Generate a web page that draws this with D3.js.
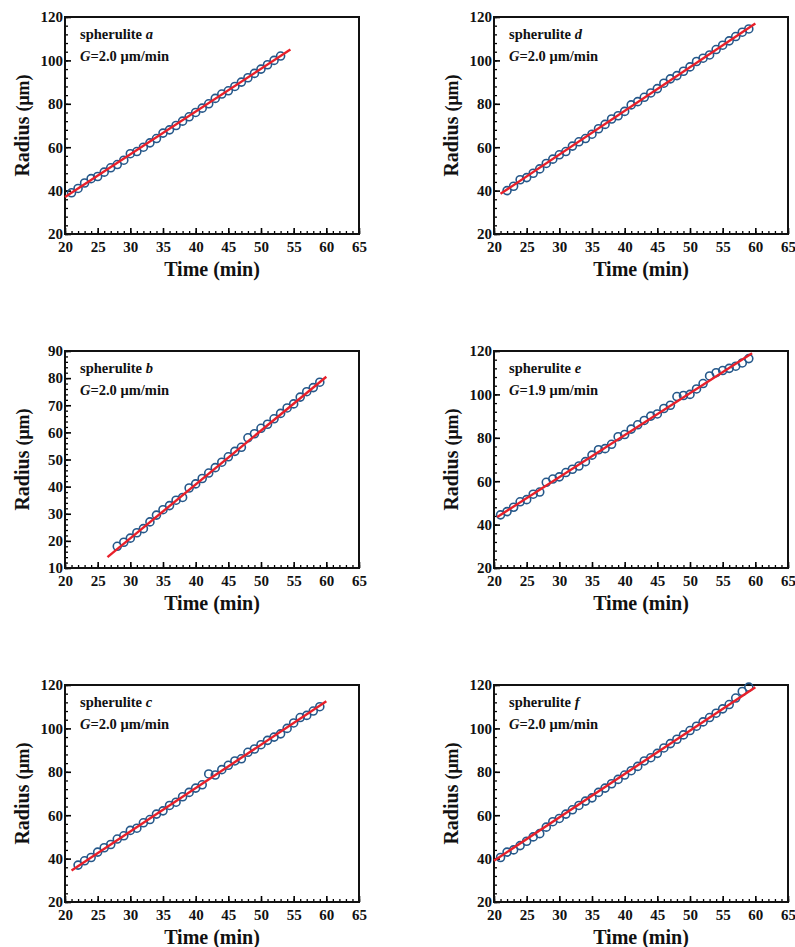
<!DOCTYPE html>
<html>
<head>
<meta charset="utf-8">
<script src="https://cdn.jsdelivr.net/npm/d3@7/dist/d3.min.js"></script>
<style>
  body { margin: 0; background: #fff; }
  svg text { font-family: "Liberation Serif", "Times New Roman", serif; font-weight: bold; fill: #111; }
</style>
</head>
<body>
<svg id="chart" width="795" height="947"></svg>
<script>
// --- data ---
var timeA = [21,22,23,24,25,26,27,28,29,30,31,32,33,34,35,36,37,38,39,40,41,42,43,44,45,46,47,48,49,50,51,52,53];
var radA  = [39,41,43.5,45.5,46.5,48.5,50.5,52,54,57,58,60,62,64,66.5,68,70,72,74,76,78,80,82.5,84.5,86,88,90,92,94,96,98,100,102];
var fitA  = [[20, 37], [54.5, 105]];

var timeD = [22,23,24,25,26,27,28,29,30,31,32,33,34,35,36,37,38,39,40,41,42,43,44,45,46,47,48,49,50,51,52,53,54,55,56,57,58,59];
var radD  = [40,42,45,46,48,50,52.5,54.5,56.5,58,60.5,62.5,64,66,68.5,70.5,73,74.5,76.5,79.5,81,83,85,87,89.5,91.5,93,95,97,99.5,101,102.5,105,107,109,111,113,114.5];
var fitD  = [[21, 38.5], [60, 117]];

var timeB = [28,29,30,31,32,33,34,35,36,37,38,39,40,41,42,43,44,45,46,47,48,49,50,51,52,53,54,55,56,57,58,59];
var radB  = [18,19.5,21,23,24.5,27,29.5,31.5,33,35,36,39.5,41,43,45,47,49,51,53,54.5,58,59.5,61.5,63,65,67,69,70.5,73,75,76.5,78.5];
var fitB  = [[26.5, 14], [60, 80.5]];

var timeE = [21,22,23,24,25,26,27,28,29,30,31,32,33,34,35,36,37,38,39,40,41,42,43,44,45,46,47,48,49,50,51,52,53,54,55,56,57,58,59];
var radE  = [44.5,46,48,50.5,51.5,54,55,59.5,61,62,64,65.5,67,69,72,74.5,75,77,80.5,81.5,84,86,88,90,91,93.5,95,99,99.5,100,102.5,105,108.5,110,111,112,113,114.5,116.5];
var fitE  = [[20.5, 43.5], [59.5, 119]];

var timeC = [22,23,24,25,26,27,28,29,30,31,32,33,34,35,36,37,38,39,40,41,42,43,44,45,46,47,48,49,50,51,52,53,54,55,56,57,58,59];
var radC  = [37,39,40.5,43,45,46.5,49,50.5,53,54,56.5,58,60.5,62,64.5,66,68.5,70.5,72.5,74,79,78.5,81,83,85,86,89,90.5,92.5,94.5,96,97.5,100,102.5,105,106,108,110];
var fitC  = [[21, 34.5], [60, 112.5]];

var timeF = [21,22,23,24,25,26,27,28,29,30,31,32,33,34,35,36,37,38,39,40,41,42,43,44,45,46,47,48,49,50,51,52,53,54,55,56,57,58,59];
var radF  = [40.5,43,44,46,48,50,51.5,54.5,57,58.5,60.5,62.5,64.5,66.5,68,70.5,72.5,74.5,76.5,78.5,80.5,82.5,85,86.5,88.5,91,93,95,97,99,101,103,105,107,109,111,114,117,119];
var fitF  = [[20, 39], [60, 119]];

var xTicks = [20,25,30,35,40,45,50,55,60,65];
var yTicks120 = [20,40,60,80,100,120];
var yTicks90 = [10,20,30,40,50,60,70,80,90];

var panels = [
  { name: "a", g: "2.0", t: timeA, r: radA, fit: fitA, y: [20,120], yt: yTicks120, ym: 4, col: 0, row: 0 },
  { name: "d", g: "2.0", t: timeD, r: radD, fit: fitD, y: [20,120], yt: yTicks120, ym: 4, col: 1, row: 0 },
  { name: "b", g: "2.0", t: timeB, r: radB, fit: fitB, y: [10,90],  yt: yTicks90,  ym: 2, col: 0, row: 1 },
  { name: "e", g: "1.9", t: timeE, r: radE, fit: fitE, y: [20,120], yt: yTicks120, ym: 4, col: 1, row: 1 },
  { name: "c", g: "2.0", t: timeC, r: radC, fit: fitC, y: [20,120], yt: yTicks120, ym: 4, col: 0, row: 2 },
  { name: "f", g: "2.0", t: timeF, r: radF, fit: fitF, y: [20,120], yt: yTicks120, ym: 4, col: 1, row: 2 }
];

// --- layout ---
var colLeft = [65, 494];
var rowTop = [17, 351, 685];
var pw = 294, ph = 217;

var svg = d3.select("#chart");

panels.forEach(function(p) {
  var left = colLeft[p.col], top = rowTop[p.row];
  var g = svg.append("g").attr("transform", "translate(" + left + "," + top + ")");

  var x = d3.scaleLinear().domain([20, 65]).range([0, pw]);
  var y = d3.scaleLinear().domain(p.y).range([ph, 0]);

  // minor ticks
  var xMinor = d3.range(20, 65.01, 1);
  var yMinor = d3.range(p.y[0], p.y[1] + 0.01, p.ym);

  g.append("g").attr("transform", "translate(0," + ph + ")")
    .call(d3.axisBottom(x).tickValues(xMinor).tickSize(-3).tickFormat(""))
    .call(function(s) { s.select(".domain").remove(); s.selectAll("line").attr("stroke-width", 1.3); });
  g.append("g")
    .call(d3.axisLeft(y).tickValues(yMinor).tickSize(-3).tickFormat(""))
    .call(function(s) { s.select(".domain").remove(); s.selectAll("line").attr("stroke-width", 1.3); });

  // major ticks + labels
  g.append("g").attr("transform", "translate(0," + ph + ")")
    .call(d3.axisBottom(x).tickValues(xTicks).tickSize(-6).tickPadding(7).tickFormat(d3.format("d")))
    .call(function(s) {
      s.select(".domain").remove();
      s.selectAll("line").attr("stroke-width", 1.6);
      s.selectAll("text").attr("font-size", 15).attr("font-family", null);
    });
  g.append("g")
    .call(d3.axisLeft(y).tickValues(p.yt).tickSize(-6).tickPadding(2).tickFormat(d3.format("d")))
    .call(function(s) {
      s.select(".domain").remove();
      s.selectAll("line").attr("stroke-width", 1.6);
      s.selectAll("text").attr("font-size", 15).attr("font-family", null);
    });

  // frame
  g.append("rect").attr("width", pw).attr("height", ph)
    .attr("fill", "none").attr("stroke", "#111").attr("stroke-width", 2);

  // data points
  var pts = p.t.map(function(t, i) { return [t, p.r[i]]; });
  g.append("g").selectAll("circle")
    .data(pts)
    .enter().append("circle")
    .attr("cx", function(d) { return x(d[0]); })
    .attr("cy", function(d) { return y(d[1]); })
    .attr("r", 4)
    .attr("fill", "none")
    .attr("stroke", "#25588a")
    .attr("stroke-width", 1.6);

  // fit line
  g.append("path")
    .datum(p.fit)
    .attr("d", d3.line().x(function(d) { return x(d[0]); }).y(function(d) { return y(d[1]); }))
    .attr("stroke", "#e8202a")
    .attr("stroke-width", 2.4)
    .attr("fill", "none");

  // annotation
  var t1 = g.append("text").attr("x", 15).attr("y", 22).attr("font-size", 14.5);
  t1.append("tspan").text("spherulite ");
  t1.append("tspan").attr("font-style", "italic").text(p.name);
  var t2 = g.append("text").attr("x", 15).attr("y", 44).attr("font-size", 14.5);
  t2.append("tspan").attr("font-style", "italic").text("G");
  t2.append("tspan").text("=" + p.g + " \u03bcm/min");

  // axis titles
  g.append("text").attr("x", pw / 2).attr("y", ph + 42)
    .attr("text-anchor", "middle").attr("font-size", 20).text("Time (min)");
  var yl = g.append("text")
    .attr("transform", "translate(-36," + (ph / 2) + ") rotate(-90)")
    .attr("text-anchor", "middle").attr("font-size", 20);
  yl.append("tspan").text("Radius ");
  yl.append("tspan").attr("font-size", 18).text("(\u03bcm)");
});
</script>
</body>
</html>
